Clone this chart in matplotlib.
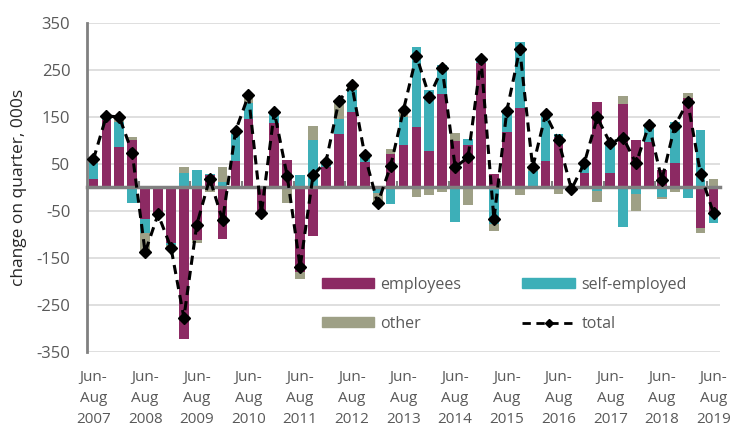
import matplotlib
matplotlib.use("Agg")
import matplotlib.pyplot as plt
import numpy as np
from matplotlib.lines import Line2D
from matplotlib.patches import Patch

# quarterly change, 000s (Jun-Aug 2007 .. Jun-Aug 2019, every 3 months)
employees = [19, 143, 87, 101, -68, -57, -118, -322, -112, 26, -110, 57, 145,
             -55, 136, 58, -180, -104, 43, 113, 161, 55, 0, 71, 90, 129, 78,
             199, 99, 90, 264, 28, 118, 170, -4, 57, 108, 2, 30, 182, 31, 177,
             101, 97, 38, 52, 190, -86, -59]
self_employed = [32, 4, 53, -34, -28, 0, -5, 30, 38, 2, 12, 56, 34, 4, 22, 0,
                 26, 101, 7, 32, 46, 9, -12, -36, 59, 169, 129, 61, -73, 13, 9,
                 -77, 47, 140, 36, 95, 5, -7, 21, -8, 61, -84, -14, 33, -20, 88,
                 -22, 123, -16]
other = [7, 4, 9, 7, -40, 0, -3, 14, -7, -9, 31, 9, 14, -4, 2, -34, -15, 30, 5,
         40, 10, 5, -22, 10, 14, -20, -16, -9, 17, -38, 0, -16, 0, -16, 10, 4,
         -13, 0, 1, -23, 2, 17, -36, 2, -5, -9, 11, -10, 17]
total = [60, 152, 150, 74, -138, -57, -128, -277, -79, 19, -70, 120, 196, -55,
         161, 24, -169, 26, 55, 184, 218, 69, -34, 45, 165, 280, 193, 253, 43,
         64, 273, -68, 163, 294, 43, 156, 100, -4, 52, 149, 94, 106, 51, 133,
         16, 131, 182, 28, -55]
years = list(range(2007, 2020))
tick_labels = ["Jun-\nAug\n" + str(y) for y in years]

plt.rcParams['font.family'] = ['Open Sans', 'DejaVu Sans']
plt.rcParams['axes.unicode_minus'] = False

fig = plt.figure(figsize=(7.5, 4.4), dpi=100)
ax = fig.add_axes([0.116, 0.2, 0.844, 0.748])

colors = ["#8C2A63", "#3DAFB8", "#9EA086"]
names = ["employees", "self-employed", "other"]
x = np.arange(len(total))
pos = np.zeros(len(x))
neg = np.zeros(len(x))
for vals, c in zip([employees, self_employed, other], colors):
    v = np.array(vals, dtype=float)
    bottom = np.where(v >= 0, pos, neg)
    ax.bar(x, v, bottom=bottom, width=0.75, color=c, zorder=2)
    pos = pos + np.where(v > 0, v, 0)
    neg = neg + np.where(v < 0, v, 0)

ax.plot(x, total, color="black", linestyle=(0, (3, 2)), lw=2.2, marker="D",
        markersize=6, zorder=4)

ax.set_xlim(-0.5, len(x) - 0.5)
ax.set_ylim(-350, 350)
ax.set_yticks(range(-350, 351, 100))
ax.grid(axis="y", color="#D9D9D9", lw=1.2, zorder=0)
ax.set_axisbelow(True)

# zero axis with small ticks between years
ax.spines["bottom"].set_position(("data", 0))
ax.spines["bottom"].set_color("#808080")
ax.spines["bottom"].set_linewidth(2.5)
ax.spines["bottom"].set_zorder(3)
ax.spines["left"].set_color("#808080")
ax.spines["left"].set_linewidth(2)
ax.spines["top"].set_visible(False)
ax.spines["right"].set_visible(False)
ax.set_xticks(np.arange(3.5, len(x), 4))
ax.tick_params(axis="x", direction="in", length=4, width=1.5,
               color="#808080", labelbottom=False)
ax.tick_params(axis="y", length=0, pad=12, labelsize=12, labelcolor="#595959")

sec = ax.secondary_xaxis("bottom")
sec.set_xticks(x[::4], tick_labels)
sec.tick_params(length=0, pad=13, labelsize=11, labelcolor="#595959")
sec.spines["bottom"].set_visible(False)
for t in sec.get_xticklabels():
    t.set_linespacing(1.55)

ax.set_ylabel("change on quarter, 000s", fontsize=12.5, color="#262626")
ax.yaxis.label.set_va("center")
ax.yaxis.set_label_coords(-0.107, 0.5)

handles = [Patch(color=colors[0]), Patch(color=colors[2]),
           Patch(color=colors[1]),
           Line2D([], [], color="black", linestyle=(0, (3, 2)), lw=2,
                  marker="D", markersize=4.5)]
labels = [names[0], names[2], names[1], "total"]
ax.legend(handles, labels, ncol=2, loc="center", bbox_to_anchor=(0.659, 0.145),
          frameon=False, fontsize=11.5, handlelength=3.3, handleheight=0.6,
          columnspacing=3.8, labelspacing=1.45, handletextpad=0.4,
          labelcolor="#595959")

fig.savefig("out.png", dpi=100)
